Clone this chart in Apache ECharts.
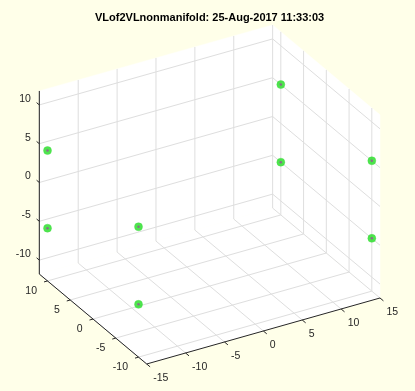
<!DOCTYPE html>
<html>
<head>
<meta charset="utf-8">
<script src="https://cdn.jsdelivr.net/npm/echarts@6/dist/echarts.min.js"></script>
<style>
html,body{margin:0;padding:0;background:#ffffe9;}
#chart{width:415px;height:391px;}
</style>
</head>
<body>
<div id="chart"></div>
<script>
// ---- data ----
const title = 'VLof2VLnonmanifold: 25-Aug-2017 11:33:03';
const xPts = [-15, -15, -15, -15, 15, 15, 15, 15];
const yPts = [10, 10, -10, -10, 10, 10, -10, -10];
const zPts = [5, -5, 5, -5, 5, -5, 5, -5];
const xTicks = [-15, -10, -5, 0, 5, 10, 15];
const yTicks = [-10, -5, 0, 5, 10];
const zTicks = [-10, -5, 0, 5, 10];
const xLim = [-15, 15];
const yLim = [-11.8, 11.8];
const zLim = [-11.8, 11.8];

// ---- view projection (orthographic, screen units per data unit) ----
const EX = [7.777, 2.2];
const EY = [-4.55, 3.81];
const EZ = [0, 7.76];
function proj(x, y, z) {
  return [x * EX[0] + y * EY[0] + z * EZ[0], x * EX[1] + y * EY[1] + z * EZ[1]];
}
const X0 = xLim[0], X1 = xLim[1], Y0 = yLim[0], Y1 = yLim[1], Z0 = zLim[0], Z1 = zLim[1];

// panes (back planes)
const panes = [
  [[X0, Y0, Z0], [X1, Y0, Z0], [X1, Y1, Z0], [X0, Y1, Z0]],
  [[X0, Y1, Z0], [X1, Y1, Z0], [X1, Y1, Z1], [X0, Y1, Z1]],
  [[X1, Y0, Z0], [X1, Y1, Z0], [X1, Y1, Z1], [X1, Y0, Z1]]
];

// grid segments
const gridSegs = [];
xTicks.forEach(t => {
  gridSegs.push([[t, Y0, Z0], [t, Y1, Z0]]);
  gridSegs.push([[t, Y1, Z0], [t, Y1, Z1]]);
});
yTicks.forEach(t => {
  gridSegs.push([[X0, t, Z0], [X1, t, Z0]]);
  gridSegs.push([[X1, t, Z0], [X1, t, Z1]]);
});
zTicks.forEach(t => {
  gridSegs.push([[X0, Y1, t], [X1, Y1, t]]);
  gridSegs.push([[X1, Y0, t], [X1, Y1, t]]);
});

// axis lines
const axisSegs = [
  [[X0, Y0, Z0], [X1, Y0, Z0]],
  [[X0, Y0, Z0], [X0, Y1, Z0]],
  [[X0, Y1, Z0], [X0, Y1, Z1]]
];
// ticks
const tickSegs = [];
xTicks.forEach(t => tickSegs.push([[t, Y0, Z0], [t, Y0 - 0.75, Z0]]));
yTicks.forEach(t => tickSegs.push([[X0, t, Z0], [X0 - 0.45, t, Z0]]));
zTicks.forEach(t => tickSegs.push([[X0, Y1, t], [X0, Y1 + 0.6, t]]));

// labels: [point, text, align, dx, dy]
const labels = [];
xTicks.forEach(t => labels.push([[t, Y0, Z0], String(t), 'left', 6.5, 14.5]));
yTicks.forEach(t => labels.push([[X0, t, Z0], String(t), 'right', -10.5, 10]));
zTicks.forEach(t => labels.push([[X0, Y1, t], String(t), 'right', -8.5, -6]));

const ORX = 209.67, ORY = 194.47;
const chart = echarts.init(document.getElementById('chart'), null, {renderer: 'canvas'});

function segSeries(segs, color, width, z) {
  return {
    type: 'custom', coordinateSystem: 'cartesian2d', silent: true, z: z,
    data: segs.map((s, i) => [i]),
    renderItem: function (params, api) {
      const s = segs[params.dataIndex];
      const a = api.coord(proj.apply(null, s[0]));
      const b = api.coord(proj.apply(null, s[1]));
      return {type: 'line', shape: {x1: a[0], y1: a[1], x2: b[0], y2: b[1]},
              style: {stroke: color, lineWidth: width}};
    }
  };
}

const ptData = xPts.map((x, i) => proj(x, yPts[i], zPts[i]));

chart.setOption({
  animation: false,
  backgroundColor: '#ffffe9',
  title: {
    text: title, left: 90, top: 7,
    textStyle: {fontFamily: 'Liberation Sans', fontSize: 11, fontWeight: 'bold', color: '#000'}
  },
  grid: {left: 0, right: 0, top: 0, bottom: 0},
  xAxis: {type: 'value', min: -ORX, max: 415 - ORX, show: false},
  yAxis: {type: 'value', min: ORY - 391, max: ORY, show: false},
  series: [
    {
      type: 'custom', coordinateSystem: 'cartesian2d', silent: true, z: 1,
      data: panes.map((p, i) => [i]),
      renderItem: function (params, api) {
        const pts = panes[params.dataIndex].map(c => api.coord(proj(c[0], c[1], c[2])));
        return {type: 'polygon', shape: {points: pts}, style: {fill: '#ffffff', stroke: '#ffffff', lineWidth: 0.5}};
      }
    },
    segSeries(gridSegs, '#dedede', 1, 2),
    segSeries(axisSegs, '#262626', 1, 3),
    segSeries(tickSegs, '#262626', 1, 3),
    {
      type: 'custom', coordinateSystem: 'cartesian2d', silent: true, z: 4,
      data: labels.map((l, i) => [i]),
      renderItem: function (params, api) {
        const l = labels[params.dataIndex];
        const a = api.coord(proj.apply(null, l[0]));
        return {type: 'text', x: a[0] + l[3], y: a[1] + l[4],
                style: {text: l[1], fill: '#262626', font: '10.5px "Liberation Sans"',
                        align: l[2], verticalAlign: 'middle'}};
      }
    },
    {
      type: 'scatter', z: 5, silent: true, data: ptData, symbol: 'circle', symbolSize: 8,
      itemStyle: {color: '#22dd22', borderColor: '#44e044', borderWidth: 0.5}
    },
    {
      type: 'scatter', z: 6, silent: true, data: ptData, symbol: 'circle', symbolSize: 2.5,
      itemStyle: {color: '#9a4f9a'}
    }
  ]
});
</script>
</body>
</html>
